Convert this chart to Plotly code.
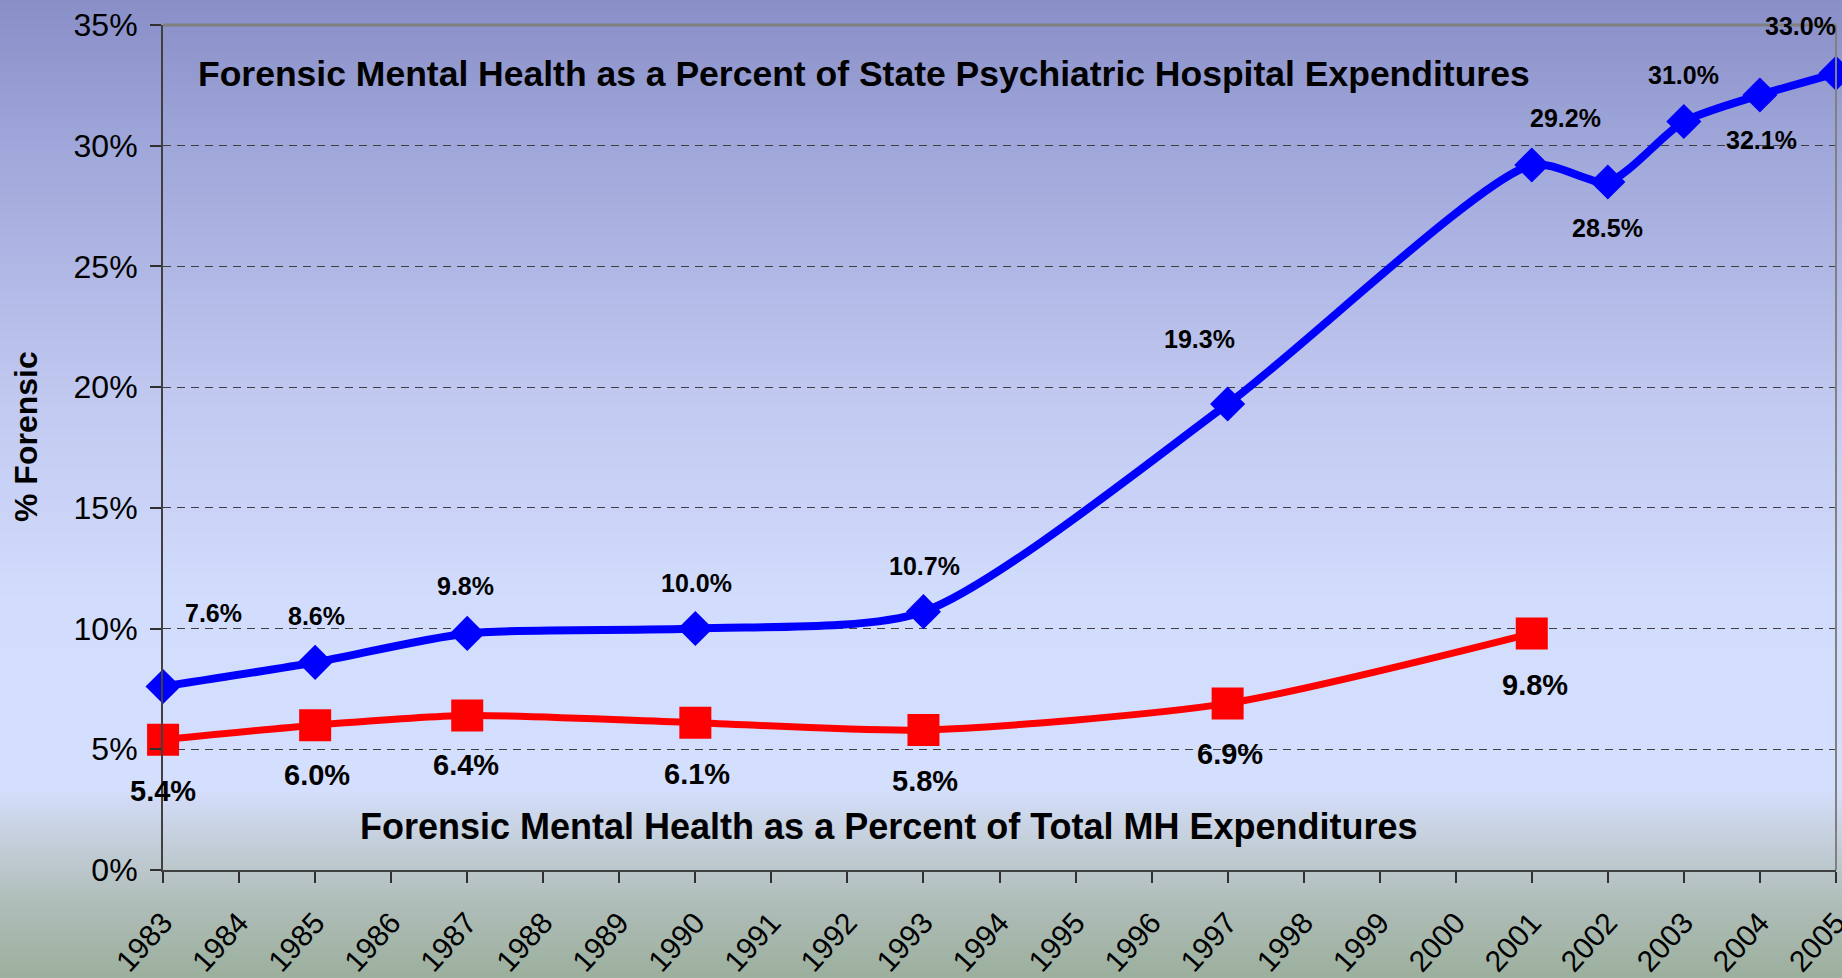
import plotly.graph_objects as go

# data
years_state = [1983, 1985, 1987, 1990, 1993, 1997, 2001, 2002, 2003, 2004, 2005]
pct_state_hosp = [7.6, 8.6, 9.8, 10.0, 10.7, 19.3, 29.2, 28.5, 31.0, 32.1, 33.0]

years_total = [1983, 1985, 1987, 1990, 1993, 1997, 2001]
pct_total_mh = [5.4, 6.0, 6.4, 6.1, 5.8, 6.9, 9.8]

year_ticks = list(range(1983, 2006))
pct_ticks = [0, 5, 10, 15, 20, 25, 30, 35]

title_state = "Forensic Mental Health as a Percent of State Psychiatric Hospital Expenditures"
title_total = "Forensic Mental Health as a Percent of Total MH Expenditures"

# label offsets in pixels (dx, dy) for each point
offsets_state = [(50, 74), (1, 46), (-2, 47), (1, 46), (1, 46), (-28, 65),
                 (34, 47), (0, -46), (0, 47), (2, -45), (-35, 47)]
offsets_total = [(0, -51), (2, -50), (-1, -50), (2, -51), (2, -51), (2, -51), (3, -52)]

W, H = 1842, 978
ML, MR, MT, MB = 163, 6, 25, 108
FONT = "Liberation Sans, Arial, sans-serif"

# background gradient stops (pixel from top, rgb)
bg_stops = [(0, (137, 143, 199)), (150, (160, 167, 218)), (400, (193, 201, 241)),
            (600, (210, 220, 252)), (790, (212, 222, 253)), (830, (200, 210, 225)),
            (900, (176, 190, 186)), (978, (156, 175, 157))]


def bg_color(py):
    for (p0, c0), (p1, c1) in zip(bg_stops[:-1], bg_stops[1:]):
        if p0 <= py <= p1:
            t = (py - p0) / (p1 - p0)
            return "rgb(%d,%d,%d)" % tuple(round(a + (b - a) * t) for a, b in zip(c0, c1))
    return "rgb(%d,%d,%d)" % bg_stops[-1][1]


def px_to_paper_y(py):
    return (H - MB - py) / (H - MT - MB)


def px_to_paper_x(px):
    return (px - ML) / (W - ML - MR)


shapes = []
step = 4
for py in range(0, H, step):
    shapes.append(dict(type="rect", xref="paper", yref="paper", layer="below",
                       x0=px_to_paper_x(0), x1=px_to_paper_x(W),
                       y0=px_to_paper_y(py + step + 1), y1=px_to_paper_y(py),
                       fillcolor=bg_color(py + step / 2), line=dict(width=0)))

# gray frame on top and right
shapes.append(dict(type="line", xref="paper", yref="paper", x0=0, x1=1, y0=1, y1=1,
                   line=dict(color="#808080", width=3)))
shapes.append(dict(type="line", xref="paper", yref="paper", x0=1, x1=1, y0=0, y1=1,
                   line=dict(color="#808080", width=2)))

fig = go.Figure()

fig.add_trace(go.Scatter(
    x=years_state, y=pct_state_hosp, mode="lines+markers",
    line=dict(color="#0000ff", width=8, shape="spline", smoothing=0.7),
    marker=dict(symbol="diamond", size=27, color="#0000ff"),
    cliponaxis=False, showlegend=False, hoverinfo="x+y"))

fig.add_trace(go.Scatter(
    x=years_total, y=pct_total_mh, mode="lines+markers",
    line=dict(color="#ff0000", width=7, shape="spline", smoothing=0.7),
    marker=dict(symbol="square", size=32, color="#ff0000"),
    cliponaxis=False, showlegend=False, hoverinfo="x+y"))

# data labels
annotations = []
for x, y, (dx, dy) in zip(years_state, pct_state_hosp, offsets_state):
    annotations.append(dict(x=x, y=y, xref="x", yref="y", text="<b>%.1f%%</b>" % y,
                            showarrow=False, xshift=dx, yshift=dy,
                            xanchor="center", yanchor="middle",
                            font=dict(family=FONT, size=25, color="black")))
for x, y, (dx, dy) in zip(years_total, pct_total_mh, offsets_total):
    annotations.append(dict(x=x, y=y, xref="x", yref="y", text="<b>%.1f%%</b>" % y,
                            showarrow=False, xshift=dx, yshift=dy,
                            xanchor="center", yanchor="middle",
                            font=dict(family=FONT, size=29, color="black")))

# series titles inside the plot
annotations.append(dict(x=px_to_paper_x(864), y=px_to_paper_y(74), xref="paper", yref="paper",
                        text="<b>" + title_state + "</b>", showarrow=False,
                        xanchor="center", yanchor="middle",
                        font=dict(family=FONT, size=35.5, color="black")))
annotations.append(dict(x=px_to_paper_x(889), y=px_to_paper_y(826), xref="paper", yref="paper",
                        text="<b>" + title_total + "</b>", showarrow=False,
                        xanchor="center", yanchor="middle",
                        font=dict(family=FONT, size=36, color="black")))

# y axis title (cut off in the original)
annotations.append(dict(x=px_to_paper_x(26), y=px_to_paper_y(437), xref="paper", yref="paper",
                        text="<b>% Forensic</b>", showarrow=False, textangle=-90,
                        xanchor="center", yanchor="middle",
                        font=dict(family=FONT, size=32, color="black")))

x_range = [1982.999, 2005.001]

fig.update_layout(
    width=W, height=H,
    margin=dict(l=ML, r=MR, t=MT, b=MB, autoexpand=False),
    paper_bgcolor="rgba(0,0,0,0)",
    plot_bgcolor="rgba(0,0,0,0)",
    font=dict(family=FONT, color="black"),
    shapes=shapes,
    annotations=annotations,
    xaxis=dict(range=x_range, tickvals=year_ticks, ticktext=[str(y) for y in year_ticks],
               tickangle=-48, tickfont=dict(size=30, color="black"),
               ticks="outside", ticklen=11, tickwidth=1.5, tickcolor="#303030",
               ticklabelstandoff=10, ticklabeloverflow="allow", automargin=False,
               showline=True, linecolor="#404040", linewidth=2,
               showgrid=False, zeroline=False),
    xaxis2=dict(range=x_range, tickvals=year_ticks, overlaying="x", anchor="y",
                side="bottom", ticks="inside", ticklen=11, tickwidth=1.5, tickcolor="#303030",
                showticklabels=False, showline=False, showgrid=False, zeroline=False),
    yaxis=dict(range=[0, 35], tickvals=pct_ticks, ticktext=["%d%%" % v for v in pct_ticks],
               tickfont=dict(size=32, color="black"),
               ticks="outside", ticklen=11, tickwidth=1.5, tickcolor="#303030",
               ticklabelstandoff=6, automargin=False,
               showline=True, linecolor="#404040", linewidth=2,
               showgrid=True, gridcolor="#404040", gridwidth=1.2, griddash="8px,6px",
               zeroline=False),
)

# drop the browser's default body margin so the chart fills the window
fig.write_html("out.html", config={"displayModeBar": False},
               post_script="document.body.style.margin='0';document.body.style.overflow='hidden';")
